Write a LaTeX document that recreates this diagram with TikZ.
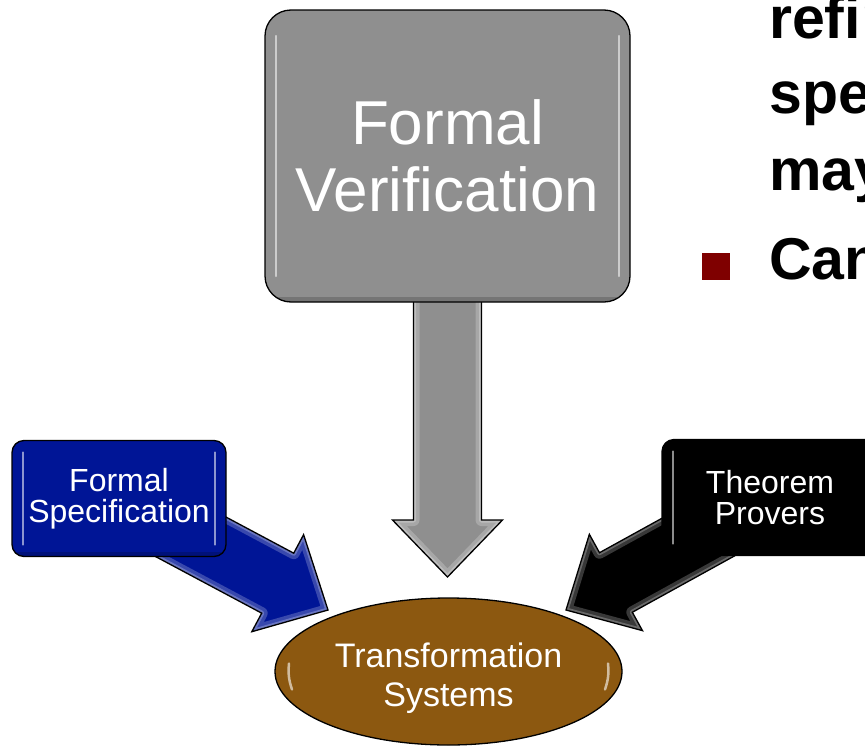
\documentclass[tikz,border=0pt]{standalone}
\usepackage{fontspec}
\setmainfont{Liberation Sans}
\usetikzlibrary{calc,shapes.geometric}

\definecolor{fvgray}{HTML}{8F8F8F}
\definecolor{fsblue}{HTML}{001596}
\definecolor{tsbrown}{HTML}{8C5810}
\definecolor{bulletred}{HTML}{7F0000}

% block arrow from #1 (shaft start) to #2 (tip), filled with #3
\newcommand\blockarrow[3]{%
  \coordinate (ba-n) at ($(#2)!57pt!(#1)$);
  \coordinate (ba-1) at ($(#1)!34pt!90:(#2)$);
  \coordinate (ba-2) at ($(ba-n)!34pt!90:(#2)$);
  \coordinate (ba-3) at ($(ba-n)!55pt!90:(#2)$);
  \coordinate (ba-5) at ($(ba-n)!55pt!-90:(#2)$);
  \coordinate (ba-6) at ($(ba-n)!34pt!-90:(#2)$);
  \coordinate (ba-7) at ($(#1)!34pt!-90:(#2)$);
  \fill[#3] (ba-1) -- (ba-2) -- (ba-3) -- (#2) -- (ba-5) -- (ba-6) -- (ba-7) -- cycle;
  \begin{scope}
    \clip (ba-1) -- (ba-2) -- (ba-3) -- (#2) -- (ba-5) -- (ba-6) -- (ba-7) -- cycle;
    \draw[white, opacity=.22, line width=12pt, line join=round]
      (ba-1) -- (ba-2) -- (ba-3) -- (#2) -- (ba-5) -- (ba-6) -- (ba-7) -- cycle;
    \draw[white, opacity=.25, line width=5pt, line join=round]
      (ba-1) -- (ba-2) -- (ba-3) -- (#2) -- (ba-5) -- (ba-6) -- (ba-7) -- cycle;
  \end{scope}
  \draw[black, line width=1.3pt, line join=miter]
    (ba-1) -- (ba-2) -- (ba-3) -- (#2) -- (ba-5) -- (ba-6) -- (ba-7) -- cycle;
}

\tikzset{
  glossbox/.style={draw=black, line width=1.3pt, rounded corners=#1pt,
    text=white, align=center, inner sep=0pt,
    path picture={
      \draw[white, opacity=.55, line width=2.5pt, line cap=round]
        ($(path picture bounding box.north west)+(11,#1)$) --
        ($(path picture bounding box.south west)+(11,-#1)$)
        ($(path picture bounding box.north east)+(-11,#1)$) --
        ($(path picture bounding box.south east)+(-11,-#1)$);
      \draw[black, opacity=.18, line width=6pt]
        ($(path picture bounding box.south west)+(0,-2)$) --
        ($(path picture bounding box.south east)+(0,-2)$);
    }},
  bodytext/.style={anchor=base west, inner sep=0pt, text=black,
    font=\bfseries\fontsize{59}{59}\selectfont},
}

\begin{document}
\begin{tikzpicture}[x=1pt, y=-1pt]
  \useasboundingbox (0,0) rectangle (865,747);
  \clip (0,0) rectangle (865,747);

  % tips of the three block arrows, just off the ellipse
  \coordinate (fvtip) at (447.5,577);
  \coordinate (fstip) at (328,610);
  \coordinate (tptip) at (566,610);

  % anchor points of the boxes (arrows are drawn behind them)
  \coordinate (fvc) at (447.5,156);
  \coordinate (fsc) at (119,498.5);
  \coordinate (tpc) at (770,497.5);

  \blockarrow{fvc}{fvtip}{fvgray}
  \blockarrow{fsc}{fstip}{fsblue}
  \blockarrow{tpc}{tptip}{black}

  % boxes
  \node[glossbox=26, fill=fvgray, minimum width=365pt, minimum height=292pt,
        font=\fontsize{62}{67}\selectfont] (fv) at (fvc) {Formal\\Verification};
  \node[glossbox=12, fill=fsblue, minimum width=214pt, minimum height=116pt,
        font=\fontsize{32}{31.5}\selectfont] (fs) at (fsc) {Formal\\Specification};
  \node[glossbox=12, fill=black, minimum width=216pt, minimum height=116pt,
        font=\fontsize{32}{31.5}\selectfont] (tp) at (tpc) {Theorem\\Provers};

  % central ellipse
  \node[ellipse, draw=black, line width=1.3pt, fill=tsbrown, minimum width=347pt,
        minimum height=147pt, inner sep=0pt,
        path picture={
          \draw[white, opacity=.6, line width=2.5pt, line cap=round]
            ($(path picture bounding box.west)+(14,-8)$) to[bend right=12]
            ($(path picture bounding box.west)+(17,18)$)
            ($(path picture bounding box.east)+(-14,-8)$) to[bend left=12]
            ($(path picture bounding box.east)+(-17,18)$);
        }] (ts) at (448.5,671.5) {};
  \node[inner sep=0pt, text=white, align=center,
        font=\fontsize{34}{39}\selectfont] (tsl) at (448.5,678.7)
        {Transformation\\Systems};

  % bulleted text at the right edge
  \node[bodytext] (l1) at (769,38) {refin};
  \node[bodytext] (l2) at (769,113) {spec};
  \node[bodytext] (l3) at (769,190) {may};
  \node[bodytext] (l4) at (769,279) {Can};
  \node[fill=bulletred, minimum width=28pt, minimum height=27pt, inner sep=0pt]
    (bul) at (716,266.5) {};
\end{tikzpicture}
\end{document}
